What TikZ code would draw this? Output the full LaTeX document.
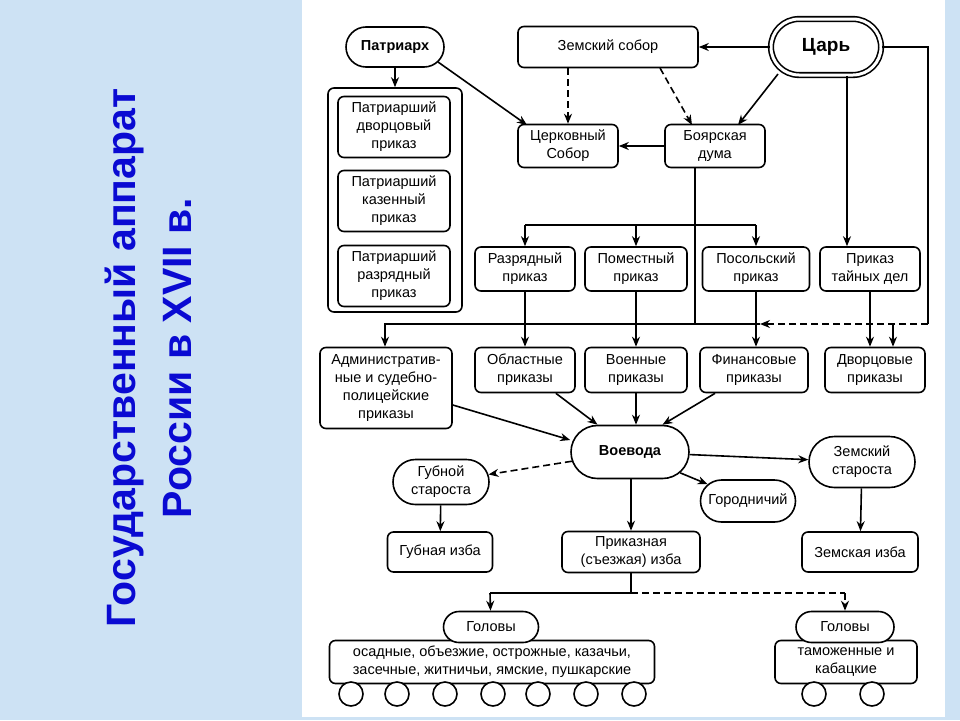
\documentclass[tikz,border=0pt]{standalone}
\usepackage{fontspec}
\setmainfont{Liberation Sans}
\usetikzlibrary{arrows.meta,shapes.misc}
\definecolor{bgblue}{RGB}{205,226,244}
\definecolor{titleblue}{RGB}{10,10,210}
\begin{document}
\begin{tikzpicture}[x=1pt,y=-1pt,
  every node/.style={font=\fontsize{14.5}{18}\selectfont, align=center, inner sep=1pt},
  box/.style={draw, line width=1.6pt, rounded corners=6pt, fill=white},
  pill/.style={draw, line width=1.6pt, rounded rectangle, fill=white},
  ar/.style={line width=1.6pt, -{Stealth[length=10pt,width=8pt]}},
  ln/.style={line width=1.6pt},
  dar/.style={ar, dash pattern=on 7pt off 4pt},
  dln/.style={ln, dash pattern=on 7pt off 4pt}]
\useasboundingbox (0,0) rectangle (960,720);
\fill[bgblue] (0,0) rectangle (960,720);
\fill[white] (302,0) rectangle (945,717);
\node[rotate=90, font=\bfseries\fontsize{41}{56}\selectfont, text=titleblue] (title) at (148,358) {Государственный аппарат\\России в XVII в.};
% top
\node[pill, minimum width=100, minimum height=40, font=\bfseries\fontsize{14.5}{18}\selectfont] (pat) at (395,47) {Патриарх};
\node[box, minimum width=180, minimum height=41] (zs) at (608,47) {Земский собор};
\node[pill, double, double distance=3pt, minimum width=112, minimum height=56, font=\bfseries\fontsize{19}{22}\selectfont] (tsar) at (826,47) {Царь};
\node[box, minimum width=134, minimum height=224] (pgrp) at (395,200) {};
\node[box, text width=104, minimum width=112, minimum height=61] (p1) at (394,127) {Патриарший\\дворцовый\\приказ};
\node[box, text width=104, minimum width=112, minimum height=61] (p2) at (394,201) {Патриарший\\казенный\\приказ};
\node[box, text width=104, minimum width=112, minimum height=61] (p3) at (394,276) {Патриарший\\разрядный\\приказ};
\node[box, minimum width=100, minimum height=43] (cs) at (568,146) {Церковный\\Собор};
\node[box, minimum width=100, minimum height=43] (bd) at (715,146) {Боярская\\дума};
% prikazy row 1
\node[box, minimum width=100, minimum height=44] (raz) at (525,269) {Разрядный\\приказ};
\node[box, minimum width=102, minimum height=44] (pom) at (636,269) {Поместный\\приказ};
\node[box, minimum width=107, minimum height=44] (pos) at (756,269) {Посольский\\приказ};
\node[box, minimum width=100, minimum height=44] (tai) at (870,269) {Приказ\\тайных дел};
% row 2
\node[box, minimum width=132, minimum height=81] (adm) at (386,388) {Административ-\\ные и судебно-\\полицейские\\приказы};
\node[box, minimum width=100, minimum height=45] (obl) at (525,370) {Областные\\приказы};
\node[box, minimum width=102, minimum height=45] (voe) at (636,370) {Военные\\приказы};
\node[box, minimum width=108, minimum height=45] (fin) at (754,370) {Финансовые\\приказы};
\node[box, minimum width=100, minimum height=45] (dvo) at (875,370) {Дворцовые\\приказы};
% voevoda level
\node[pill, minimum width=120, minimum height=53, font=\bfseries\fontsize{14.5}{18}\selectfont] (vv) at (630,452) {Воевода};
\node[pill, minimum width=108, minimum height=51] (zst) at (862,462) {Земский\\староста};
\node[pill, minimum width=98, minimum height=45] (gst) at (441,482) {Губной\\староста};
\node[pill, minimum width=97, minimum height=42] (gor) at (748,501) {Городничий};
\node[box, minimum width=105, minimum height=40] (giz) at (440,552) {Губная изба};
\node[box, minimum width=138, minimum height=41] (piz) at (631,552) {Приказная\\(съезжая) изба};
\node[box, minimum width=116, minimum height=40] (ziz) at (860,552) {Земская изба};
% bottom
\node[box, minimum width=325, minimum height=43] (lbox) at (492,662) {осадные, объезжие, острожные, казачьи,\\засечные, житничьи, ямские, пушкарские};
\node[pill, minimum width=97, minimum height=31] (lgol) at (491,627) {Головы};
\node[box, minimum width=142, minimum height=43] (rbox) at (846,662) {таможенные и\\кабацкие};
\node[pill, minimum width=100, minimum height=31] (rgol) at (845,627) {Головы};
\foreach \cx in {351,397,445,493,538,586,634}
  \draw[ln, fill=white] (\cx,694) circle (12);
\foreach \cx in {814,872}
  \draw[ln, fill=white] (\cx,694) circle (12);
% coordinates
\coordinate (tr) at (928,47);
\coordinate (trd) at (928,324);
\coordinate (dl) at (760,324);
\coordinate (bdb) at (695,324);
\coordinate (adl) at (385,324);
\coordinate (h1) at (525,225);
\coordinate (h2) at (756,225);
\coordinate (bdh) at (695,225);
\coordinate (dvt) at (893,324);
\coordinate (pb) at (631,593);
\coordinate (pl) at (490,593);
\coordinate (pr) at (845,593);
\coordinate (tsd) at (778,74);
\coordinate (bdt) at (738,125);
\coordinate (pats) at (438,62);
\coordinate (cst) at (527,125);
% connectors top
\draw[ar] (tsar) -- (zs);
\draw[ar] (tsd) -- (bdt);
\draw[ar] (pat) -- (pgrp);
\draw[ar] (pats) -- (cst);
\draw[dar] (zs.south -| cs) -- (cs);
\draw[dar] (660,68) -- (692,125);
\draw[ar] (bd) -- (cs);
\draw[ln] (tsar.east) -- (tr) -- (trd);
\draw[dar] (trd) -- (dl);
\draw[ar] (tsar.south -| 847,0) -- (tai.north -| 847,0);
\draw[ar] (trd -| dvt) -- (dvo.north -| dvt);
\draw[ln] (bd.south -| bdb) -- (bdb) -- (dl);
\draw[ar] (bdb) -- (adl) -- (adm.north -| adl);
\draw[ln] (h1) -- (h2);
\draw[ar] (h1) -- (raz);
\draw[ar] (bdh -| pom) -- (pom);
\draw[ar] (h2) -- (pos);
\draw[ar] (raz) -- (obl);
\draw[ar] (pom) -- (voe);
\draw[ar] (pos.south) -- (fin.north -| pos.south);
\draw[ar] (tai) -- (dvo.north -| tai);
% to voevoda
\draw[ar] (adm.east |- 0,405) -- (vv.west |- 0,440);
\draw[ar] (obl) -- (vv.north west);
\draw[ar] (voe) -- (vv.north -| voe);
\draw[ar] (fin) -- (vv.north east);
\draw[ar] (vv) -- (zst);
\draw[dar] (vv) -- (gst);
\draw[ar] (vv) -- (gor);
\draw[ar] (vv.south -| piz) -- (piz);
\draw[ar] (gst) -- (giz);
\draw[ar] (zst) -- (ziz);
\draw[ln] (piz) -- (pb) -- (pl);
\draw[ar] (pl) -- (lgol);
\draw[dln] (pb) -- (pr);
\draw[dar] (pr) -- (rgol);
\end{tikzpicture}
\end{document}
